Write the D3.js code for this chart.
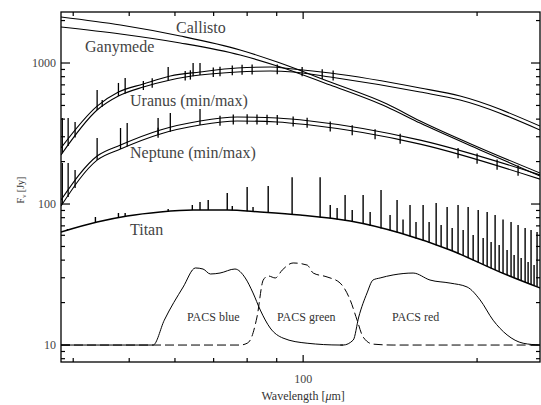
<!DOCTYPE html>
<html>
<head>
<meta charset="utf-8">
<script src="https://cdn.jsdelivr.net/npm/d3@7"></script>
<style>
  body { margin: 0; background: #fff; }
  svg { display: block; }
  text { font-family: "Liberation Serif", "DejaVu Serif", serif; }
</style>
</head>
<body>
<svg id="chart" width="541" height="405"></svg>
<script>
// ---- Continuum models: wavelength [µm] and flux density [Jy] ----
const callistoWl   = [38.1, 48.3, 61.3, 77.8, 90.2, 111.4, 139.7, 159.4, 202.4, 257];
const callistoFlux = [2120, 1860, 1554, 1237, 1016, 733, 512, 388, 250, 166];

const ganymedeWl   = [38.1, 48.3, 61.3, 77.8, 90.2, 111.4, 139.7, 159.4, 202.4, 257];
const ganymedeFlux = [1800, 1606, 1387, 1140, 952, 698, 488, 375, 242, 158];

const uranusWl      = [38.1, 44.0, 47.9, 52.9, 58.9, 66.3, 76.9, 87.7, 96.1, 111.4, 159.4, 186.9, 257];
const uranusMaxFlux = [250, 495, 623, 710, 809, 864, 922, 937, 907, 849, 665, 583, 357];
const uranusMinFlux = [223, 464, 583, 676, 758, 822, 864, 878, 864, 796, 623, 547, 335];

const neptuneWl      = [38.1, 44.0, 48.3, 56.6, 66.3, 76.9, 90.2, 102.8, 159.4, 257];
const neptuneMaxFlux = [106.8, 219, 262, 335, 388, 414, 407, 388, 284, 161];
const neptuneMinFlux = [96.8, 205, 245.5, 314, 363, 388, 382, 363, 266, 150];

const titanWl   = [38.1, 44.0, 49.6, 56.6, 64.5, 73.9, 84.3, 98.8, 120.6, 147.2, 179.6, 219.2, 257];
const titanFlux = [63.3, 74.5, 82.2, 87.8, 90.7, 90.7, 87.8, 83.6, 75.8, 62.3, 47.2, 32.9, 25.4];

// ---- Emission lines: wavelength [µm] and peak flux [Jy] ----
const uranusLineWl   = [38.3, 39.2, 40.3, 44.0, 44.9, 47.9, 49.2, 58.4, 64.5, 66.3];
const uranusLinePeak = [407, 407, 382, 643, 547, 722, 783, 937, 1000, 1000];

const neptuneLineWl   = [38.3, 39.2, 40.3, 44.0, 48.3, 49.6, 56.1, 58.9, 66.3];
const neptuneLinePeak = [195, 195, 174, 294, 346, 375, 407, 442, 472];

// Weaker features shown as short ticks across both model curves
const uranusTickWl  = [52.9, 54.8, 62.5, 63.8, 69.9, 71.8, 75.4, 78.4, 81.6, 90.2, 99.6, 107.9, 112.7];
const neptuneTickWl = [56.1, 71.8, 75.7, 80.0, 83.2, 86.6, 90.2, 96.1, 101.6, 111.4, 121.6, 133.2, 147.2,
                       185.4, 200.0, 216.6, 235.5];

const titanLineWl   = [39.1, 43.7, 47.9, 49.2, 58.4, 60.5, 64.3, 66.3, 68.5, 73.9, 75.4, 80.0, 81.9, 87.0, 95.7,
                       107.0, 111.4, 114.5, 118.2, 121.6, 127.0, 130.6, 136.4, 141.4, 145.4, 148.9, 153.1,
                       156.8, 161.3, 165.2, 169.9, 173.3, 177.5, 181.1, 185.4, 189.2, 193.0, 196.9, 200.9,
                       204.9, 208.2, 211.5, 214.9, 218.4, 221.8, 225.4, 229.0, 231.8, 235.5, 238.4, 242.2,
                       245.1, 248.0, 251.0, 254.0];
const titanLinePeak = [66.5, 80.9, 86.4, 86.4, 92.1, 90.7, 98.4, 103.3, 106.8, 119.7, 96.8, 132, 95.3, 134.2, 155,
                       155, 98.4, 93.7, 115.8, 90.7, 115.8, 87.8, 125.7, 83.6, 106.8, 77.6, 98.4,
                       74.5, 98.4, 74.5, 101.6, 71.0, 95.3, 67.6, 98.4, 65.4, 95.3, 60.3, 90.7,
                       57.4, 87.8, 53.8, 83.6, 51.2, 77.6, 47.2, 74.5, 43.5, 71.0, 41.4, 67.6,
                       38.8, 65.4, 36.9, 63.3];

// ---- PACS filter curves, drawn above the 10 Jy level ----
const pacsBlueWl   = [38.1, 55.0, 57.5, 62.0, 65.1, 67.1, 69.1, 71.8, 76.2, 79.4, 81.9, 84.3, 87.7, 92.3, 101.6, 115.9, 117.3];
const pacsBlueFlux = [10, 10, 15.0, 25.8, 35.2, 34.6, 31.9, 32.4, 34.6, 29.9, 23.4, 17.7, 13.2, 11.2, 10.3, 10, 10];

const pacsGreenWl   = [38.1, 77.8, 80.0, 81.0, 83.2, 85.3, 87.0, 89.5, 92.0, 96.1, 101.6, 104.1, 110.0, 115.9, 120.6, 124.0, 127.0, 132.1, 143.1, 257];
const pacsGreenFlux = [10, 10, 10.3, 10.85, 15.8, 28.9, 30.9, 29.9, 34.0, 38.2, 36.9, 32.4, 30.4, 27.5, 20.9, 15.0, 11.4, 10.15, 10, 10];

const pacsRedWl   = [115.9, 117.3, 122.1, 124.8, 129.0, 132.1, 135.9, 143.1, 155.0, 165.8, 179.6, 192.2, 202.4, 213.2, 225.4, 240.3, 257];
const pacsRedFlux = [10, 10, 10.85, 15.8, 23.4, 28.9, 29.9, 31.4, 32.4, 28.9, 27.5, 25.8, 20.9, 15.0, 11.8, 10.3, 10];

// ---- Axis ticks ----
const xMajorTicks = [100];
const xMinorTicks = [40, 50, 60, 70, 80, 90, 200];
const yMajorTicks = [10, 100, 1000];
const yMinorTicks = [8, 9, 20, 30, 40, 50, 60, 70, 80, 90, 200, 300, 400, 500, 600, 700, 800, 900, 2000];

const svg = d3.select("#chart");
const mLeft = 61, mRight = 540, mTop = 12, mBottom = 362;

const x = d3.scaleLog().domain([38.1, 257]).range([mLeft, mRight]);
const y = d3.scaleLog().domain([7.58, 2300]).range([mBottom, mTop]);

svg.append("defs").append("clipPath").attr("id", "plot-clip")
  .append("rect").attr("x", mLeft).attr("y", mTop).attr("width", mRight - mLeft).attr("height", mBottom - mTop);
const inner = svg.append("g").attr("clip-path", "url(#plot-clip)");

const line = d3.line()
  .x(d => x(d[0]))
  .y(d => y(d[1]))
  .curve(d3.curveMonotoneX);

function drawCurve(wl, flux, opts = {}) {
  inner.append("path")
    .datum(wl.map((w, i) => [w, flux[i]]))
    .attr("d", line)
    .attr("fill", "none")
    .attr("stroke", "#000")
    .attr("stroke-width", opts.width || 1.1)
    .attr("stroke-dasharray", opts.dash || null);
}

// Log-log interpolation of a continuum at a given wavelength
function continuumAt(wl, flux, w) {
  const i = Math.max(1, Math.min(wl.length - 1, d3.bisectLeft(wl, w)));
  const t = (Math.log(w) - Math.log(wl[i - 1])) / (Math.log(wl[i]) - Math.log(wl[i - 1]));
  return Math.exp(Math.log(flux[i - 1]) + t * (Math.log(flux[i]) - Math.log(flux[i - 1])));
}

function drawLines(lineWl, linePeak, wl, flux, width) {
  inner.append("g").selectAll("line")
    .data(lineWl.map((w, i) => [w, linePeak[i]]))
    .join("line")
    .attr("x1", d => x(d[0])).attr("x2", d => x(d[0]))
    .attr("y1", d => y(continuumAt(wl, flux, d[0])))
    .attr("y2", d => y(d[1]))
    .attr("stroke", "#000")
    .attr("stroke-width", width || 1.3);
}

function drawTicks(tickWl, wl, lowFlux, highFlux) {
  inner.append("g").selectAll("line")
    .data(tickWl)
    .join("line")
    .attr("x1", d => x(d)).attr("x2", d => x(d))
    .attr("y1", d => y(continuumAt(wl, lowFlux, d)) + 3)
    .attr("y2", d => y(continuumAt(wl, highFlux, d)) - 3)
    .attr("stroke", "#000")
    .attr("stroke-width", 1.3);
}

// Filter profiles
drawCurve(pacsBlueWl, pacsBlueFlux, { width: 1 });
drawCurve(pacsGreenWl, pacsGreenFlux, { width: 1, dash: "9,4" });
drawCurve(pacsRedWl, pacsRedFlux, { width: 1 });

// Models
drawCurve(callistoWl, callistoFlux);
drawCurve(ganymedeWl, ganymedeFlux);
drawCurve(uranusWl, uranusMaxFlux);
drawCurve(uranusWl, uranusMinFlux);
drawCurve(neptuneWl, neptuneMaxFlux);
drawCurve(neptuneWl, neptuneMinFlux);
drawCurve(titanWl, titanFlux, { width: 1.5 });

drawLines(uranusLineWl, uranusLinePeak, uranusWl, uranusMinFlux);
drawLines(neptuneLineWl, neptuneLinePeak, neptuneWl, neptuneMinFlux);
drawTicks(uranusTickWl, uranusWl, uranusMinFlux, uranusMaxFlux);
drawTicks(neptuneTickWl, neptuneWl, neptuneMinFlux, neptuneMaxFlux);
drawLines(titanLineWl, titanLinePeak, titanWl, titanFlux, 1.4);

// Frame and inward ticks on all four sides
const axes = svg.append("g").attr("stroke", "#000");
axes.append("rect")
  .attr("x", mLeft).attr("y", mTop).attr("width", mRight - mLeft).attr("height", mBottom - mTop)
  .attr("fill", "none").attr("stroke-width", 1.3);

function xTicks(values, len) {
  values.forEach(v => {
    axes.append("line").attr("x1", x(v)).attr("x2", x(v)).attr("y1", mBottom).attr("y2", mBottom - len);
    axes.append("line").attr("x1", x(v)).attr("x2", x(v)).attr("y1", mTop).attr("y2", mTop + len);
  });
}
function yTicks(values, len) {
  values.forEach(v => {
    axes.append("line").attr("y1", y(v)).attr("y2", y(v)).attr("x1", mLeft).attr("x2", mLeft + len);
    axes.append("line").attr("y1", y(v)).attr("y2", y(v)).attr("x1", mRight).attr("x2", mRight - len);
  });
}
xTicks(xMajorTicks, 7);
xTicks(xMinorTicks, 4);
yTicks(yMajorTicks, 9);
yTicks(yMinorTicks, 4);
axes.selectAll("line").attr("stroke-width", 1.2);

// Tick labels
const labels = svg.append("g").attr("fill", "#444").attr("font-size", 12);
yMajorTicks.forEach(v => {
  labels.append("text").attr("x", mLeft - 5).attr("y", y(v)).attr("dy", "0.35em")
    .attr("text-anchor", "end").text(d3.format("d")(v));
});
xMajorTicks.forEach(v => {
  labels.append("text").attr("x", x(v)).attr("y", mBottom + 21)
    .attr("text-anchor", "middle").text(d3.format("d")(v));
});

// Axis titles
svg.append("text").attr("x", x(100)).attr("y", 400).attr("text-anchor", "middle")
  .attr("font-size", 12).attr("fill", "#333")
  .html('Wavelength [<tspan font-style="italic">μ</tspan>m]');
svg.append("text").attr("transform", "translate(24,190) rotate(-90)").attr("text-anchor", "middle")
  .attr("font-size", 10).attr("fill", "#333")
  .html('F<tspan font-size="7" dy="2">ν</tspan><tspan dy="-2"> [Jy]</tspan>');

// Curve annotations
const ann = svg.append("g").attr("fill", "#444").attr("font-size", 16);
[["Callisto", 176, 33], ["Ganymede", 85, 52], ["Uranus (min/max)", 130, 106],
 ["Neptune (min/max)", 130, 158], ["Titan", 130, 235]]
  .forEach(([t, px, py]) => ann.append("text").attr("x", px).attr("y", py).text(t));
const pacs = svg.append("g").attr("fill", "#333").attr("font-size", 12);
[["PACS blue", 187, 321], ["PACS green", 277, 321], ["PACS red", 392, 321]]
  .forEach(([t, px, py]) => pacs.append("text").attr("x", px).attr("y", py).text(t));
</script>
</body>
</html>
